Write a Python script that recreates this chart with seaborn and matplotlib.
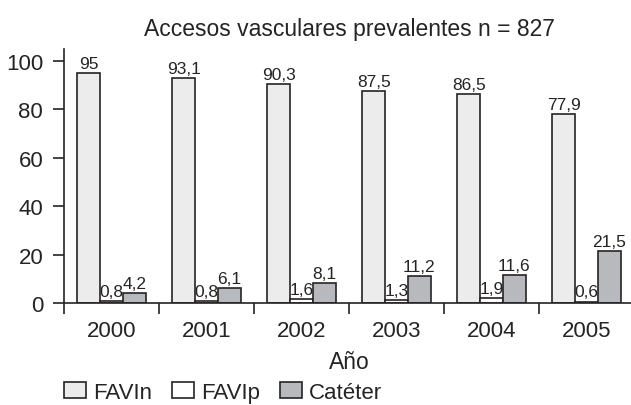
import pandas as pd
import matplotlib.pyplot as plt
import seaborn as sns

# datos del gráfico
anios = ['2000', '2001', '2002', '2003', '2004', '2005']
favin = [95, 93.1, 90.3, 87.5, 86.5, 77.9]
favip = [0.8, 0.8, 1.6, 1.3, 1.9, 0.6]
cateter = [4.2, 6.1, 8.1, 11.2, 11.6, 21.5]
series = ['FAVIn', 'FAVIp', 'Catéter']
colores = ['#ececec', '#ffffff', '#b8b9bc']

df = pd.DataFrame({'Año': anios * 3,
                   'Tipo': ['FAVIn'] * 6 + ['FAVIp'] * 6 + ['Catéter'] * 6,
                   'Valor': favin + favip + cateter})

sns.set_style('white')
plt.rcParams['font.family'] = ['Liberation Sans', 'DejaVu Sans']
oscuro = '#262324'

fig = plt.figure(figsize=(6.31, 4.06), dpi=100)
ax = fig.add_axes([0.1014, 0.2512, 0.9036, 0.626])

sns.barplot(data=df, x='Año', y='Valor', hue='Tipo', hue_order=series,
            palette=colores, width=0.72, edgecolor=oscuro, linewidth=1.2,
            saturation=1, ax=ax, legend=True)

# etiquetas con coma decimal
for cont, vals in zip(ax.containers, [favin, favip, cateter]):
    etiquetas = [f'{v:g}'.replace('.', ',') for v in vals]
    ax.bar_label(cont, labels=etiquetas, padding=1.5, fontsize=12.5, color=oscuro)

ax.set_xlim(-0.5, 5.5)
ax.set_ylim(0, 105)
ax.set_yticks([0, 20, 40, 60, 80, 100])
ax.tick_params(axis='y', which='major', length=8, width=1.2, color=oscuro,
               labelsize=16, labelcolor=oscuro, pad=7, left=True)
ax.tick_params(axis='x', which='major', length=0, labelsize=16,
               labelcolor=oscuro, pad=12)
ax.set_xticks([-0.5, 0.5, 1.5, 2.5, 3.5, 4.5, 5.5], minor=True)
ax.tick_params(axis='x', which='minor', length=8, width=1.2, color=oscuro,
               bottom=True, direction='out')

sns.despine(ax=ax)
for lado in ['left', 'bottom']:
    ax.spines[lado].set_color(oscuro)
    ax.spines[lado].set_linewidth(1.2)

ax.set_ylabel('')
ax.set_xlabel('Año', fontsize=16.5, color=oscuro, labelpad=7)
ax.set_title('Accesos vasculares prevalentes n = 827', fontsize=16.5,
             color=oscuro, pad=10)

ax.legend(loc='center left', bbox_to_anchor=(0.0, -0.352), ncol=3,
          frameon=False, fontsize=16, handlelength=1.0, handleheight=0.7,
          handletextpad=0.3, columnspacing=0.9, borderaxespad=0, borderpad=0,
          labelcolor=oscuro)

fig.savefig('out.png', dpi=100)
